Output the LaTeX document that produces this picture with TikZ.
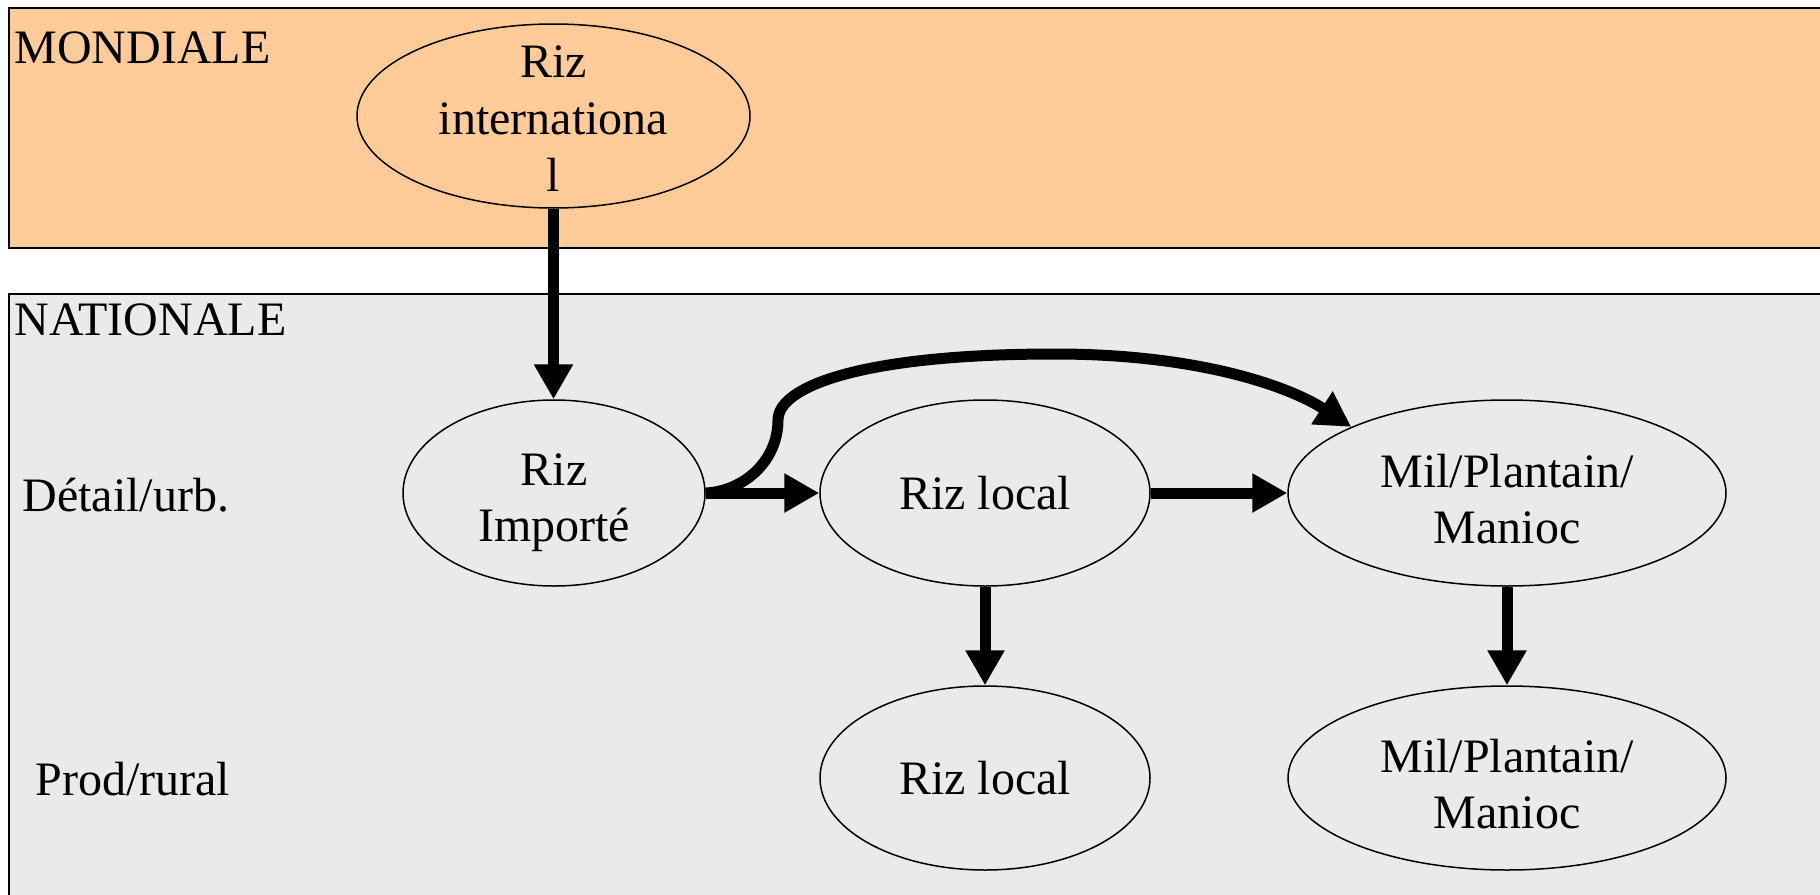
\documentclass[tikz,border=0pt]{standalone}
\usepackage{fontspec}
\setmainfont{Liberation Serif}
\usetikzlibrary{arrows.meta,shapes.geometric}
\definecolor{orangebg}{HTML}{FFCC99}
\definecolor{graybg}{HTML}{EAEAEA}
\begin{document}
\begin{tikzpicture}[x=0.5pt,y=-0.5pt,
  ell/.style={ellipse, draw, line width=0.75pt, inner sep=0pt, align=center, font=\fontsize{24}{28}\selectfont},
  txt/.style={inner sep=0pt, align=center, font=\fontsize{24}{28}\selectfont},
  lbl/.style={inner sep=0pt, anchor=base west, font=\fontsize{24}{28}\selectfont},
  arr/.style={line width=5.5pt, -{Triangle[length=17.5pt,width=18.5pt]}},
  band/.style={draw, line width=0.75pt}]
\useasboundingbox (0,0) rectangle (1820,894);
\clip (0,0) rectangle (1820,894);
\fill[white] (0,0) rectangle (1820,894);
\draw[band, fill=orangebg] (9,8) rectangle (1900,248);
\draw[band, fill=graybg] (9,294) rectangle (1900,960);

\node[lbl] (mond) at (14,63) {MONDIALE};
\node[lbl] (nat) at (14,335) {NATIONALE};
\node[lbl] (det) at (22,511) {Détail/urb.};
\node[lbl] (prod) at (35,795) {Prod/rural};

\node[ell, minimum width=196.5pt, minimum height=92pt] (ri) at (553.5,116) {};
\node[txt, font=\fontsize{24}{28.5}\selectfont] (ritxt) at (553.5,119) {Riz\\internationa\\l};
\node[ell, minimum width=151pt, minimum height=93pt] (imp) at (554,493) {};
\node[txt] (imptxt) at (554,503) {Riz\\Importé};
\node[ell, minimum width=165pt, minimum height=93pt] (rl1) at (985,493) {Riz local};
\node[ell, minimum width=219pt, minimum height=93pt] (mil1) at (1507,493) {};
\node[txt] (mil1txt) at (1507,499) {Mil/Plantain/\\Manioc};
\node[ell, minimum width=165pt, minimum height=92pt] (rl2) at (985,778) {Riz local};
\node[ell, minimum width=219pt, minimum height=92pt] (mil2) at (1507,778) {};
\node[txt] (mil2txt) at (1507,784) {Mil/Plantain/\\Manioc};

\draw[arr] (ri.south) -- (ri.south |- imp.north);
\draw[arr] (imp.east) -- (rl1.west);
\draw[arr] (rl1.east) -- (mil1.west);
\draw[arr] (rl1.south) -- (rl2.north);
\draw[arr] (mil1.south) -- (mil2.north);
\draw[arr] (imp.east) .. controls (745,491) and (778,460) .. (778,420)
  .. controls (778,387) and (860,354) .. (1055,354)
  .. controls (1200,354) and (1290,387) .. (mil1.157);
\end{tikzpicture}
\end{document}
